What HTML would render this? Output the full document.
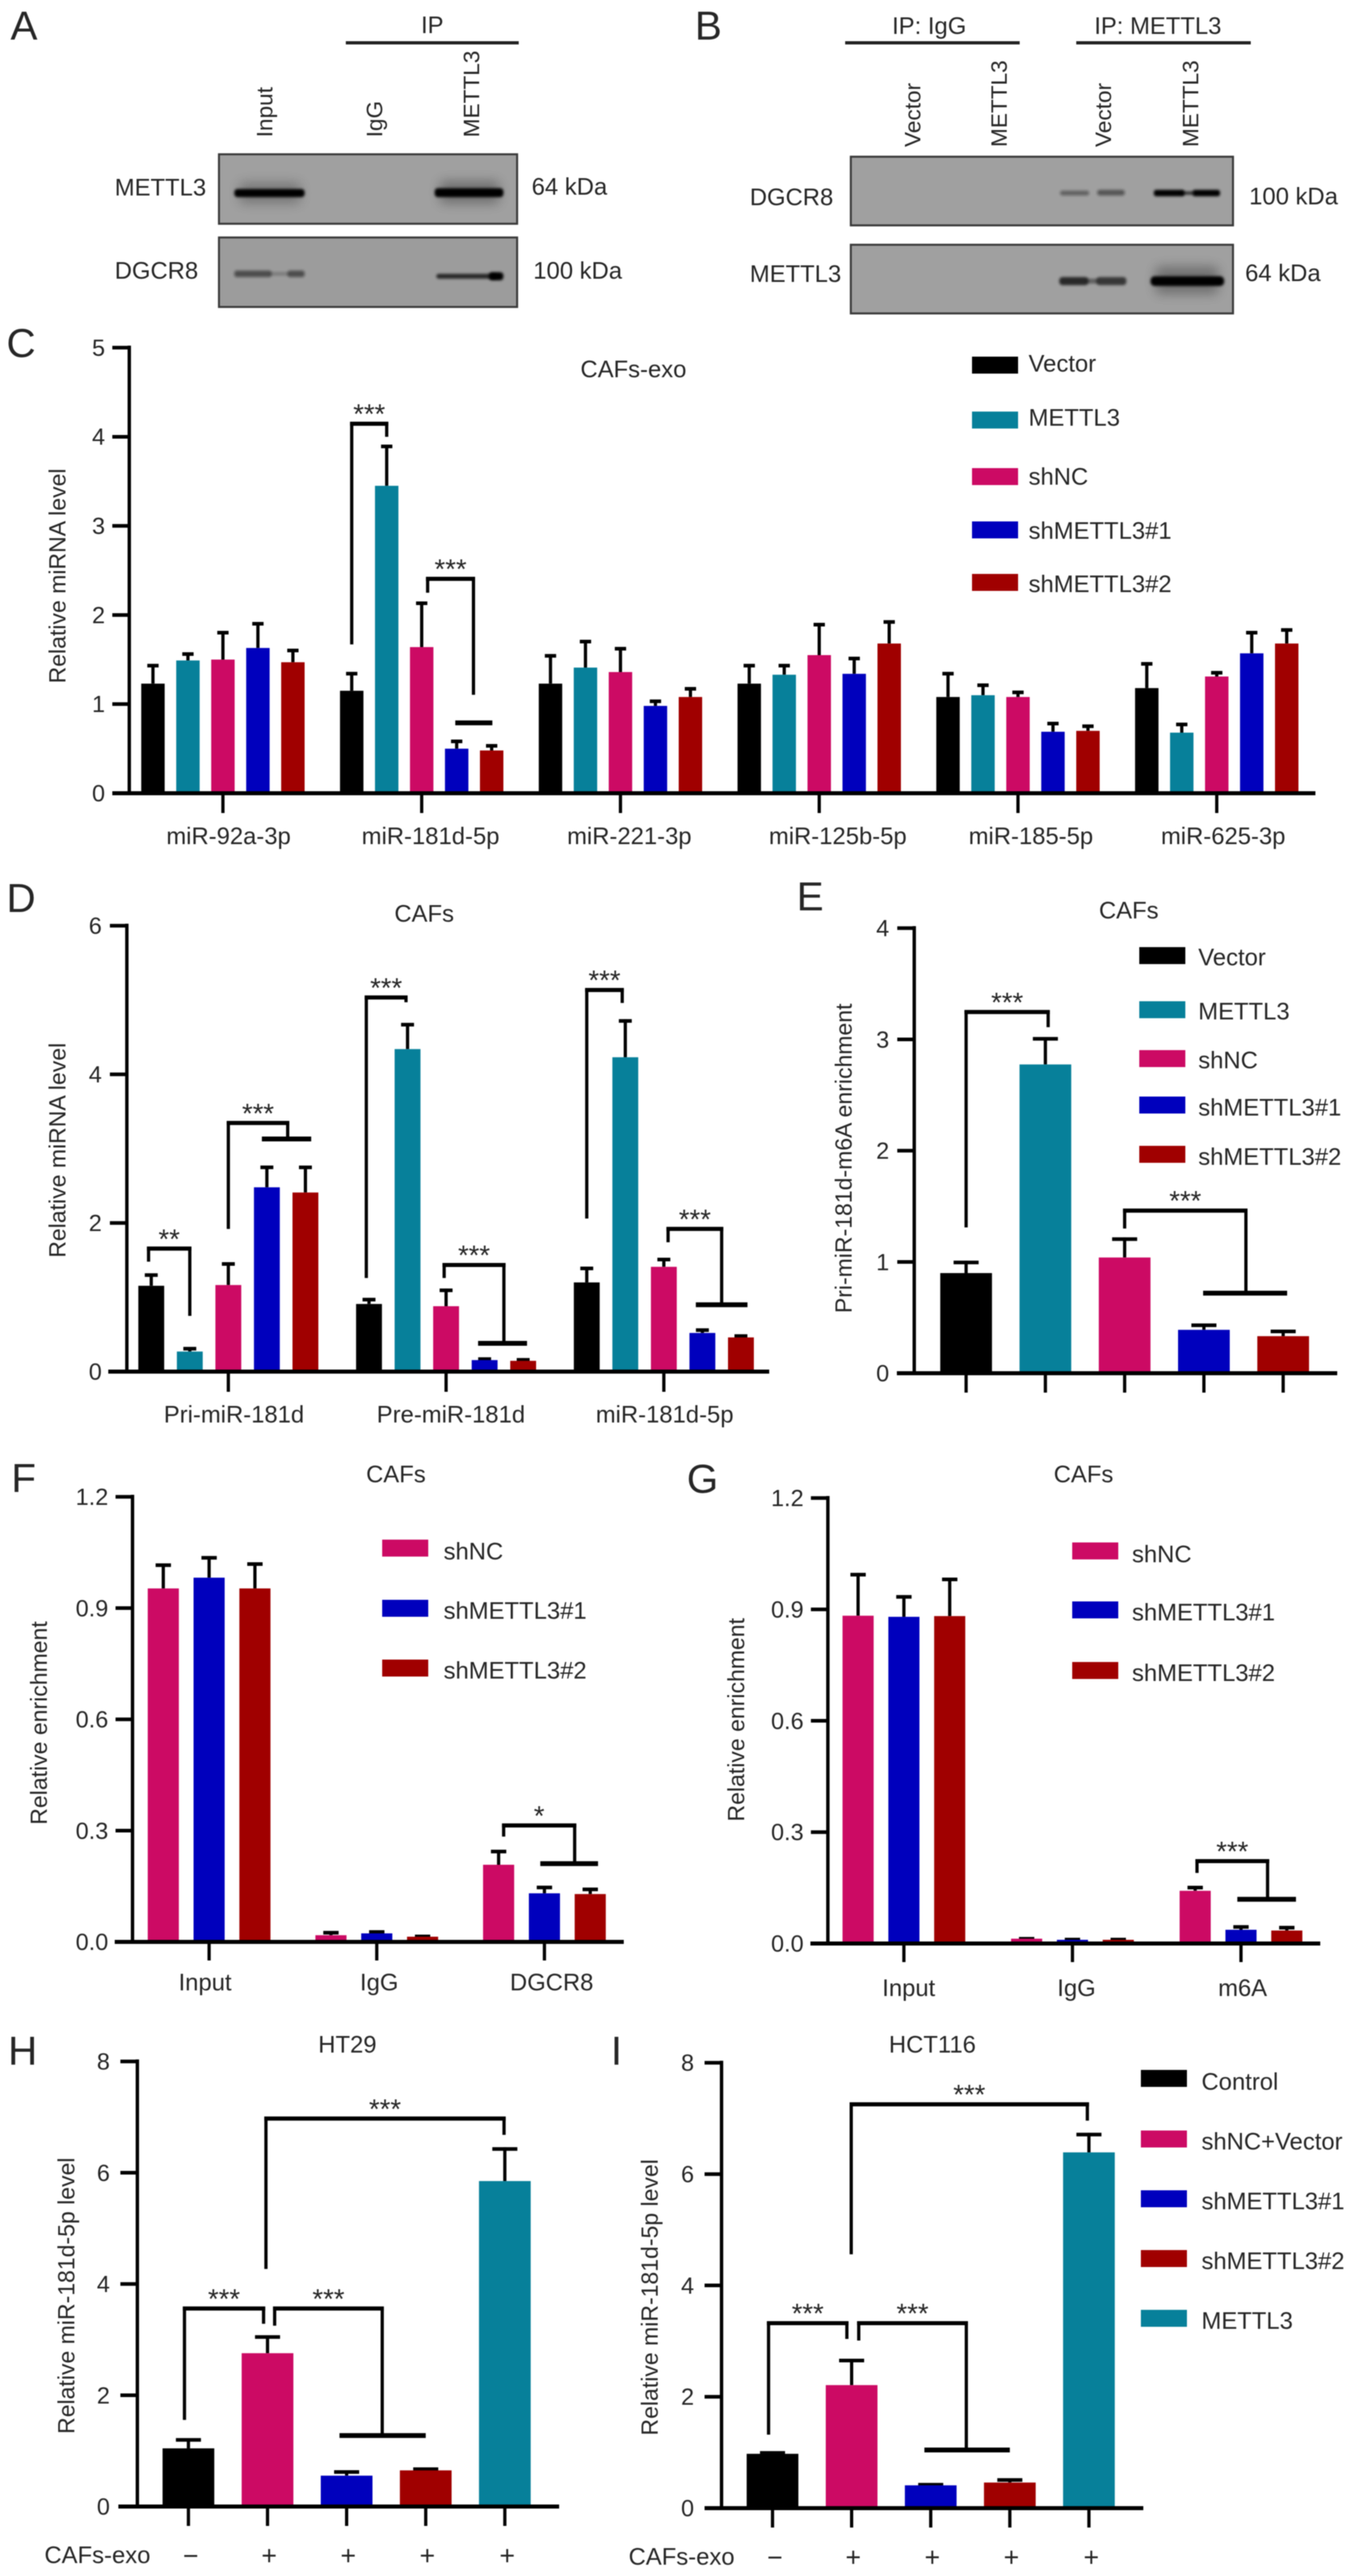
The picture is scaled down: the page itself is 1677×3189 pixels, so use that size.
<!DOCTYPE html>
<html lang="en">
<head>
<meta charset="utf-8">
<title>METTL3 figure panels</title>
<style>
html,body{margin:0;padding:0;background:#fff;}
svg{display:block;filter:blur(0.5px);}
text{font-family:"Liberation Sans",Arial,sans-serif;fill:#262626;}
.t{font-size:29.5px;}
.r{font-size:28px;}
.y{font-size:28.5px;}
.p{font-size:50px;}
</style>
</head>
<body>
<svg id="figure" xmlns="http://www.w3.org/2000/svg" width="1677" height="3189" viewBox="0 0 1677 3189">
<defs>
<filter id="b1" x="-20%" y="-100%" width="140%" height="300%"><feGaussianBlur stdDeviation="1.6"/></filter>
<filter id="b7" x="-30%" y="-150%" width="160%" height="400%"><feGaussianBlur stdDeviation="7"/></filter>
</defs>
<rect width="1677" height="3189" fill="#fff"/>

<g>
<text class="p" x="13" y="49">A</text>
<text class="t" x="535" y="41" text-anchor="middle">IP</text>
<rect x="428" y="51" width="214" height="4" fill="#222"/>
<text class="r" transform="translate(337,170) rotate(-90)">Input</text>
<text class="r" transform="translate(473,170) rotate(-90)">IgG</text>
<text class="r" transform="translate(593,170) rotate(-90)">METTL3</text>
<g>
<rect x="271" y="191" width="369" height="86" fill="#a0a0a0" stroke="#3a3a3a" stroke-width="2.5"/>
<rect x="296" y="226" width="76" height="26" rx="6" fill="#000" opacity=".25" filter="url(#b7)"/>
<rect x="290" y="234" width="87" height="10" rx="4" fill="#000" filter="url(#b1)"/>
<rect x="544" y="224" width="74" height="28" rx="6" fill="#000" opacity=".3" filter="url(#b7)"/>
<rect x="538" y="233" width="85" height="11" rx="4" fill="#000" filter="url(#b1)"/>
</g>
<g>
<rect x="271" y="294" width="369" height="86" fill="#9c9c9c" stroke="#3a3a3a" stroke-width="2.5"/>
<rect x="290" y="335" width="46" height="8" rx="3" fill="#111" opacity=".55" filter="url(#b1)"/>
<rect x="334" y="337" width="24" height="4" fill="#111" opacity=".25" filter="url(#b1)"/>
<rect x="356" y="335" width="21" height="8" rx="3" fill="#111" opacity=".55" filter="url(#b1)"/>
<rect x="540" y="339" width="76" height="6" rx="3" fill="#000" opacity=".75" filter="url(#b1)"/>
<rect x="605" y="337" width="18" height="10" rx="4" fill="#000" filter="url(#b1)"/>
</g>
<text class="t" x="142" y="242">METTL3</text>
<text class="t" x="658" y="241">64 kDa</text>
<text class="t" x="142" y="345">DGCR8</text>
<text class="t" x="660" y="345">100 kDa</text>
</g>

<g>
<text class="p" x="860" y="49">B</text>
<text class="t" x="1150" y="42" text-anchor="middle">IP: IgG</text>
<rect x="1046" y="51" width="216" height="4" fill="#222"/>
<text class="t" x="1433" y="42" text-anchor="middle">IP: METTL3</text>
<rect x="1332" y="51" width="216" height="4" fill="#222"/>
<text class="r" transform="translate(1139,182) rotate(-90)">Vector</text>
<text class="r" transform="translate(1246,182) rotate(-90)">METTL3</text>
<text class="r" transform="translate(1375,182) rotate(-90)">Vector</text>
<text class="r" transform="translate(1483,182) rotate(-90)">METTL3</text>
<g>
<rect x="1053" y="194" width="473" height="85" fill="#a0a0a0" stroke="#3a3a3a" stroke-width="2.5"/>
<rect x="1312" y="236" width="36" height="6" rx="3" fill="#111" opacity=".42" filter="url(#b1)"/>
<rect x="1358" y="235" width="34" height="7" rx="3" fill="#111" opacity=".5" filter="url(#b1)"/>
<rect x="1428" y="235" width="38" height="8" rx="3" fill="#000" filter="url(#b1)"/>
<rect x="1462" y="237" width="16" height="4" fill="#000" opacity=".7" filter="url(#b1)"/>
<rect x="1476" y="235" width="34" height="8" rx="3" fill="#000" filter="url(#b1)"/>
</g>
<g>
<rect x="1053" y="303" width="473" height="85" fill="#a0a0a0" stroke="#3a3a3a" stroke-width="2.5"/>
<rect x="1311" y="343" width="36" height="10" rx="4" fill="#000" opacity=".75" filter="url(#b1)"/>
<rect x="1345" y="345" width="14" height="6" fill="#000" opacity=".4" filter="url(#b1)"/>
<rect x="1357" y="343" width="37" height="10" rx="4" fill="#000" opacity=".65" filter="url(#b1)"/>
<rect x="1430" y="330" width="78" height="34" rx="6" fill="#000" opacity=".3" filter="url(#b7)"/>
<rect x="1424" y="342" width="91" height="12" rx="5" fill="#000" filter="url(#b1)"/>
</g>
<text class="t" x="928" y="254">DGCR8</text>
<text class="t" x="1546" y="253">100 kDa</text>
<text class="t" x="928" y="349">METTL3</text>
<text class="t" x="1541" y="348">64 kDa</text>
</g>

<text class="p" x="8" y="442">C</text>
<text class="t" x="784" y="467" text-anchor="middle">CAFs-exo</text>
<text class="y" transform="translate(81,713) rotate(-90)" text-anchor="middle">Relative miRNA level</text>

<text class="p" x="8" y="1129">D</text>
<text class="t" x="525" y="1141" text-anchor="middle">CAFs</text>
<text class="y" transform="translate(81,1424) rotate(-90)" text-anchor="middle">Relative miRNA level</text>

<text class="p" x="986" y="1127">E</text>
<text class="t" x="1397" y="1137" text-anchor="middle">CAFs</text>
<text class="y" transform="translate(1054,1434) rotate(-90)" text-anchor="middle" font-size="29">Pri-miR-181d-m6A enrichment</text>

<text class="p" x="14" y="1847">F</text>
<text class="t" x="490" y="1835" text-anchor="middle">CAFs</text>
<text class="y" transform="translate(58,2133) rotate(-90)" text-anchor="middle">Relative enrichment</text>

<text class="p" x="850" y="1848">G</text>
<text class="t" x="1341" y="1835" text-anchor="middle">CAFs</text>
<text class="y" transform="translate(921,2129) rotate(-90)" text-anchor="middle">Relative enrichment</text>

<text class="p" x="10" y="2556">H</text>
<text class="t" x="430" y="2541" text-anchor="middle">HT29</text>
<text class="y" transform="translate(92,2842) rotate(-90)" text-anchor="middle">Relative miR-181d-5p level</text>
<text class="t" x="55" y="3173">CAFs-exo</text>

<text class="p" x="756" y="2556">I</text>
<text class="t" x="1154" y="2541" text-anchor="middle">HCT116</text>
<text class="y" transform="translate(814,2844) rotate(-90)" text-anchor="middle">Relative miR-181d-5p level</text>
<text class="t" x="778" y="3175">CAFs-exo</text>
</svg>

<script>
// ---------- Panel C ----------
const cCategories = ['miR-92a-3p','miR-181d-5p','miR-221-3p','miR-125b-5p','miR-185-5p','miR-625-3p'];
const cTicks = [0,1,2,3,4,5];
const cTickLabels = ['0','1','2','3','4','5'];
const cSeriesNames = ['Vector','METTL3','shNC','shMETTL3#1','shMETTL3#2'];
const cVector = [1.23,1.15,1.23,1.23,1.08,1.18];
const cVectorErr = [0.22,0.21,0.33,0.22,0.28,0.29];
const cMettl3 = [1.49,3.45,1.41,1.33,1.10,0.68];
const cMettl3Err = [0.09,0.46,0.31,0.12,0.13,0.11];
const cShNC = [1.50,1.64,1.36,1.55,1.08,1.31];
const cShNCErr = [0.32,0.51,0.28,0.36,0.07,0.06];
const cSh1 = [1.63,0.50,0.98,1.34,0.69,1.57];
const cSh1Err = [0.29,0.10,0.07,0.19,0.11,0.25];
const cSh2 = [1.47,0.48,1.08,1.68,0.70,1.68];
const cSh2Err = [0.15,0.07,0.11,0.26,0.07,0.17];

// ---------- Panel D ----------
const dCategories = ['Pri-miR-181d','Pre-miR-181d','miR-181d-5p'];
const dTicks = [0,2,4,6];
const dTickLabels = ['0','2','4','6'];
const dVector = [1.155,0.91,1.20];
const dVectorErr = [0.165,0.08,0.21];
const dMettl3 = [0.27,4.34,4.23];
const dMettl3Err = [0.06,0.35,0.51];
const dShNC = [1.165,0.88,1.41];
const dShNCErr = [0.305,0.235,0.12];
const dSh1 = [2.48,0.155,0.52];
const dSh1Err = [0.29,0.035,0.06];
const dSh2 = [2.41,0.145,0.46];
const dSh2Err = [0.36,0.035,0.04];

// ---------- Panel E ----------
const eCategories = ['Vector','METTL3','shNC','shMETTL3#1','shMETTL3#2'];
const eTicks = [0,1,2,3,4];
const eTickLabels = ['0','1','2','3','4'];
const eValues = [0.90,2.775,1.04,0.39,0.333];
const eErrors = [0.11,0.245,0.18,0.056,0.057];

// ---------- Panel F ----------
const fCategories = ['Input','IgG','DGCR8'];
const fTicks = [0,0.3,0.6,0.9,1.2];
const fTickLabels = ['0.0','0.3','0.6','0.9','1.2'];
const fSeriesNames = ['shNC','shMETTL3#1','shMETTL3#2'];
const fShNC = [0.953,0.018,0.208];
const fShNCErr = [0.067,0.011,0.040];
const fSh1 = [0.982,0.023,0.131];
const fSh1Err = [0.058,0.008,0.020];
const fSh2 = [0.953,0.014,0.129];
const fSh2Err = [0.070,0.005,0.017];

// ---------- Panel G ----------
const gCategories = ['Input','IgG','m6A'];
const gTicks = [0,0.3,0.6,0.9,1.2];
const gTickLabels = ['0.0','0.3','0.6','0.9','1.2'];
const gShNC = [0.883,0.013,0.142];
const gShNCErr = [0.115,0.004,0.013];
const gSh1 = [0.880,0.010,0.037];
const gSh1Err = [0.058,0.005,0.012];
const gSh2 = [0.882,0.010,0.035];
const gSh2Err = [0.103,0.005,0.012];

// ---------- Panels H and I ----------
const hiCategories = ['Control','shNC+Vector','shMETTL3#1','shMETTL3#2','METTL3'];
const hiExoSigns = ['\u2212','+','+','+','+'];
const hiTicks = [0,2,4,6,8];
const hiTickLabels = ['0','2','4','6','8'];
const hValues = [1.046,2.756,0.555,0.65,5.85];
const hErrors = [0.18,0.32,0.095,0.05,0.606];
const iValues = [0.976,2.21,0.41,0.46,6.39];
const iErrors = [0.045,0.47,0.04,0.075,0.35];

// ---------- Styles ----------
const BLACK = '#000000', TEAL = '#07809a', PINK = '#cc0a64', BLUE = '#0000bd', RED = '#a00000';
const INK = '#000';

const svg = document.getElementById('figure');
const NS = 'http://www.w3.org/2000/svg';

function mk(parent, tag, attrs, text) {
  const el = document.createElementNS(NS, tag);
  for (const k in attrs) el.setAttribute(k, attrs[k]);
  if (text !== undefined) el.textContent = text;
  parent.appendChild(el);
  return el;
}
function nameEl(el, name) {
  
  
  return el;
}
function slug(s) {
  return String(s).toLowerCase().replace(/[^a-z0-9]+/g, '-').replace(/^-|-$/g, '');
}

function drawChart(c) {
  const g = nameEl(mk(svg, 'g', {}), 'chart-' + c.id);
  const yMax = c.ticks[c.ticks.length - 1];
  const yScale = v => c.y0 - (v / yMax) * (c.y0 - c.yTop);
  const barX = (group, slot) => c.x0 + group * c.groupGap + slot * c.barGap;
  const nSlots = c.series.length;

  // bars and error bars
  c.series.forEach(s => {
    s.values.forEach((v, i) => {
      const cx = barX(i, c.perCategoryColor ? 0 : s.slot);
      const fill = c.perCategoryColor ? c.colors[i] : s.color;
      const top = yScale(v);
      const errTop = yScale(v + s.errors[i]);
      const line = mk(g, 'line', {x1: cx, x2: cx, y1: top, y2: errTop, stroke: INK, 'stroke-width': 4});
      nameEl(line, 'error-bar-' + slug(c.categories[i]) + '-' + slug(s.name));
      const cap = mk(g, 'line', {x1: cx - c.cap / 2, x2: cx + c.cap / 2, y1: errTop + 2, y2: errTop + 2, stroke: INK, 'stroke-width': 4.5});
      nameEl(cap, 'error-cap-' + slug(c.categories[i]) + '-' + slug(s.name));
      const bar = mk(g, 'rect', {x: cx - c.barW / 2, y: top, width: c.barW, height: c.y0 - top, fill: fill});
      nameEl(bar, 'bar-' + slug(c.categories[i]) + '-' + slug(s.name));
    });
  });

  // y axis
  const yAxis = mk(g, 'line', {x1: c.axisX, x2: c.axisX, y1: c.yTop - 2.5, y2: c.y0, stroke: INK, 'stroke-width': 4.2});
  nameEl(yAxis, 'y-axis-' + c.id);
  c.ticks.forEach((t, i) => {
    const ty = yScale(t);
    const tick = mk(g, 'line', {x1: c.axisX - 21, x2: c.axisX, y1: ty, y2: ty, stroke: INK, 'stroke-width': 4.5});
    nameEl(tick, 'y-tick-' + c.id + '-' + i);
    const lab = mk(g, 'text', {x: c.axisX - c.labelGap, y: ty + 10, 'text-anchor': 'end', 'font-size': 29}, c.tickLabels[i]);
    nameEl(lab, 'y-tick-label-' + c.id + '-' + i);
  });

  // x axis
  const xAxis = mk(g, 'line', {x1: c.baseL, x2: c.baseR, y1: c.y0, y2: c.y0, stroke: INK, 'stroke-width': 5});
  nameEl(xAxis, 'x-axis-' + c.id);
  c.categories.forEach((cat, i) => {
    const tx = barX(i, c.perCategoryColor ? 0 : (nSlots - 1) / 2);
    const tick = mk(g, 'line', {x1: tx, x2: tx, y1: c.y0, y2: c.tickBottom, stroke: INK, 'stroke-width': 4});
    nameEl(tick, 'x-tick-' + c.id + '-' + i);
    if (c.xLabels) {
      const lab = mk(g, 'text', {x: tx + c.labelDx[i], y: c.labelY, 'text-anchor': 'middle', 'font-size': c.labelSize || 29.5}, c.xLabels[i]);
      nameEl(lab, 'x-label-' + c.id + '-' + i);
    }
  });

  // legend
  c.legend.items.forEach((name, i) => {
    const ly = c.legend.ys[i];
    const sw = mk(g, 'rect', {x: c.legend.x, y: ly - 10.5, width: 57, height: 21, fill: c.legend.colors[i]});
    nameEl(sw, 'legend-swatch-' + slug(name));
    const lab = mk(g, 'text', {x: c.legend.textX, y: ly + c.legend.textDy[i], 'font-size': 29.5}, name);
    nameEl(lab, 'legend-label-' + slug(name));
  });

  return {g, yScale, barX};
}

function bracket(chart, id, group, a, b, ya, top, yb, label, hbar) {
  const {g, yScale, barX} = chart;
  const xa = barX(group, a), xb = barX(group, b);
  const path = mk(g, 'path', {d: 'M' + xa + ' ' + yScale(ya) + ' V' + yScale(top) + ' H' + xb + ' V' + yScale(yb), fill: 'none', stroke: INK, 'stroke-width': 4});
  nameEl(path, 'significance-bracket-' + id);
  const topBar = mk(g, 'line', {x1: xa - 2, x2: xb + 2, y1: yScale(top) + 0.5, y2: yScale(top) + 0.5, stroke: INK, 'stroke-width': 5});
  nameEl(topBar, 'significance-bracket-top-' + id);
  if (hbar) {
    const h = mk(g, 'line', {x1: barX(group, hbar[0]), x2: barX(group, hbar[1]), y1: yScale(hbar[2]), y2: yScale(hbar[2]), stroke: INK, 'stroke-width': 6});
    nameEl(h, 'significance-group-bar-' + id);
  }
  const t = mk(g, 'text', {x: (xa + xb) / 2, y: yScale(top), 'text-anchor': 'middle', 'font-size': 34}, label);
  nameEl(t, 'significance-label-' + id);
}

const five = [BLACK, TEAL, PINK, BLUE, RED];
const three = [PINK, BLUE, RED];

// Panel C
const chartC = drawChart({
  id: 'c', categories: cCategories, xLabels: cCategories, ticks: cTicks, tickLabels: cTickLabels,
  series: [
    {name: cSeriesNames[0], slot: 0, color: BLACK, values: cVector, errors: cVectorErr},
    {name: cSeriesNames[1], slot: 1, color: TEAL, values: cMettl3, errors: cMettl3Err},
    {name: cSeriesNames[2], slot: 2, color: PINK, values: cShNC, errors: cShNCErr},
    {name: cSeriesNames[3], slot: 3, color: BLUE, values: cSh1, errors: cSh1Err},
    {name: cSeriesNames[4], slot: 4, color: RED, values: cSh2, errors: cSh2Err}
  ],
  axisX: 160, yTop: 430.4, y0: 982, baseL: 139, baseR: 1628, x0: 189.3, barGap: 43.3, groupGap: 246,
  barW: 29, cap: 14, tickBottom: 1006.5, labelY: 1045, labelGap: 30, labelDx: [7, 11, 11, 23, 16, 8],
  legend: {items: cSeriesNames, colors: five, x: 1203, textX: 1273, ys: [452, 520, 590, 656, 721], textDy: [8, 7, 10, 11, 12]}
});
bracket(chartC, 'c-1', 1, 0, 1, 1.67, 4.15, 4.0, '***');
bracket(chartC, 'c-2', 1, 2.17, 3.48, 2.25, 2.41, 1.105, '***', [2.96, 4.02, 0.79]);

// Panel D
const chartD = drawChart({
  id: 'd', categories: dCategories, xLabels: dCategories, ticks: dTicks, tickLabels: dTickLabels,
  series: [
    {name: cSeriesNames[0], slot: 0, color: BLACK, values: dVector, errors: dVectorErr},
    {name: cSeriesNames[1], slot: 1, color: TEAL, values: dMettl3, errors: dMettl3Err},
    {name: cSeriesNames[2], slot: 2, color: PINK, values: dShNC, errors: dShNCErr},
    {name: cSeriesNames[3], slot: 3, color: BLUE, values: dSh1, errors: dSh1Err},
    {name: cSeriesNames[4], slot: 4, color: RED, values: dSh2, errors: dSh2Err}
  ],
  axisX: 157, yTop: 1146, y0: 1698, baseL: 134, baseR: 952, x0: 187.2, barGap: 47.7, groupGap: 269.5,
  barW: 32, cap: 16, tickBottom: 1723, labelY: 1761, labelGap: 31, labelDx: [7, 6, 1],
  legend: {items: [], colors: [], x: 0, textX: 0, ys: [], textDy: []}
});
bracket(chartD, 'd-1', 0, -0.07, 1.0, 1.48, 1.66, 0.75, '**');
bracket(chartD, 'd-2', 0, 2.0, 3.54, 1.92, 3.35, 3.13, '***', [2.87, 4.15, 3.13]);
bracket(chartD, 'd-3', 1, -0.07, 0.96, 1.26, 5.04, 4.97, '***');
bracket(chartD, 'd-4', 1, 1.95, 3.5, 1.26, 1.44, 0.38, '***', [2.83, 4.1, 0.38]);
bracket(chartD, 'd-5', 2, 0, 0.92, 2.06, 5.14, 4.96, '***');
bracket(chartD, 'd-6', 2, 2.11, 3.5, 1.74, 1.925, 0.9, '***', [2.83, 4.17, 0.9]);

// Panel E
const chartE = drawChart({
  id: 'e', categories: eCategories, ticks: eTicks, tickLabels: eTickLabels, perCategoryColor: true, colors: five,
  series: [{name: 'enrichment', values: eValues, errors: eErrors}],
  axisX: 1131.5, yTop: 1149, y0: 1700, baseL: 1110, baseR: 1655, x0: 1195.7, barGap: 98.1, groupGap: 98.1,
  barW: 64, cap: 31, tickBottom: 1724, labelGap: 31,
  legend: {items: eCategories, colors: five, x: 1410, textX: 1483, ys: [1183, 1250, 1310.5, 1368, 1429], textDy: [12, 12, 12, 13, 13]}
});
bracket(chartE, 'e-1', 0, 0, 1.035, 1.31, 3.25, 3.11, '***');
bracket(chartE, 'e-2', 0, 2, 3.53, 1.30, 1.465, 0.72, '***', [2.99, 4.05, 0.72]);

// Panel F
const chartF = drawChart({
  id: 'f', categories: fCategories, xLabels: fCategories, ticks: fTicks, tickLabels: fTickLabels,
  series: [
    {name: fSeriesNames[0], slot: 0, color: PINK, values: fShNC, errors: fShNCErr},
    {name: fSeriesNames[1], slot: 1, color: BLUE, values: fSh1, errors: fSh1Err},
    {name: fSeriesNames[2], slot: 2, color: RED, values: fSh2, errors: fSh2Err}
  ],
  axisX: 164, yTop: 1853, y0: 2404, baseL: 142, baseR: 772, x0: 202.1, barGap: 56.7, groupGap: 207.5,
  barW: 38.5, cap: 19, tickBottom: 2427, labelY: 2464, labelGap: 30, labelDx: [-5, 3, 9],
  legend: {items: fSeriesNames, colors: three, x: 473, textX: 549, ys: [1916.5, 1991, 2065], textDy: [14, 13, 13]}
});
bracket(chartF, 'f-1', 2, 0.11, 1.66, 0.284, 0.315, 0.211, '*', [0.91, 2.17, 0.211]);

// Panel G
const chartG = drawChart({
  id: 'g', categories: gCategories, xLabels: gCategories, ticks: gTicks, tickLabels: gTickLabels,
  series: [
    {name: fSeriesNames[0], slot: 0, color: PINK, values: gShNC, errors: gShNCErr},
    {name: fSeriesNames[1], slot: 1, color: BLUE, values: gSh1, errors: gSh1Err},
    {name: fSeriesNames[2], slot: 2, color: RED, values: gSh2, errors: gSh2Err}
  ],
  axisX: 1024.6, yTop: 1854.5, y0: 2406, baseL: 1003, baseR: 1634, x0: 1062, barGap: 56.7, groupGap: 208.6,
  barW: 38.5, cap: 19, tickBottom: 2429, labelY: 2471, labelGap: 30, labelDx: [6, 5, 2],
  legend: {items: fSeriesNames, colors: three, x: 1327, textX: 1401, ys: [1920, 1993, 2068], textDy: [14, 13, 13]}
});
bracket(chartG, 'g-1', 2, 0.04, 1.58, 0.19, 0.223, 0.119, '***', [0.92, 2.2, 0.119]);

// Panel H
const chartH = drawChart({
  id: 'h', categories: hiCategories, xLabels: hiExoSigns, ticks: hiTicks, tickLabels: hiTickLabels, perCategoryColor: true,
  colors: [BLACK, PINK, BLUE, RED, TEAL],
  series: [{name: 'level', values: hValues, errors: hErrors}],
  axisX: 170, yTop: 2552, y0: 3103, baseL: 146.5, baseR: 692, x0: 233.2, barGap: 97.9, groupGap: 97.9,
  barW: 64, cap: 31, tickBottom: 3127, labelY: 3175, labelSize: 33, labelGap: 34, labelDx: [3, 2, 2, 2, 3],
  legend: {items: [], colors: [], x: 0, textX: 0, ys: [], textDy: []}
});
bracket(chartH, 'h-1', 0, -0.05, 0.95, 1.557, 3.566, 3.285, '***');
bracket(chartH, 'h-2', 0, 1.09, 2.45, 3.25, 3.566, 1.276, '***', [1.91, 3.0, 1.276]);
bracket(chartH, 'h-3', 0, 0.98, 3.99, 4.27, 6.98, 6.68, '***');

// Panel I
const chartI = drawChart({
  id: 'i', categories: hiCategories, xLabels: hiExoSigns, ticks: hiTicks, tickLabels: hiTickLabels, perCategoryColor: true,
  colors: [BLACK, PINK, BLUE, RED, TEAL],
  series: [{name: 'level', values: iValues, errors: iErrors}],
  axisX: 893, yTop: 2553.6, y0: 3105, baseL: 872, baseR: 1415, x0: 956.1, barGap: 97.9, groupGap: 97.9,
  barW: 64, cap: 31, tickBottom: 3129, labelY: 3177, labelSize: 33, labelGap: 34, labelDx: [3, 2, 2, 2, 3],
  legend: {items: hiCategories, colors: [BLACK, PINK, BLUE, RED, TEAL], x: 1412, textX: 1487, ys: [2573, 2648, 2722, 2796, 2870], textDy: [14, 13, 13, 13, 13]}
});
bracket(chartI, 'i-1', 0, -0.05, 0.94, 1.32, 3.33, 3.04, '***');
bracket(chartI, 'i-2', 0, 1.09, 2.45, 3.01, 3.33, 1.045, '***', [1.92, 3.0, 1.045]);
bracket(chartI, 'i-3', 0, 0.995, 3.98, 4.56, 7.26, 6.96, '***');
</script>
</body>
</html>
